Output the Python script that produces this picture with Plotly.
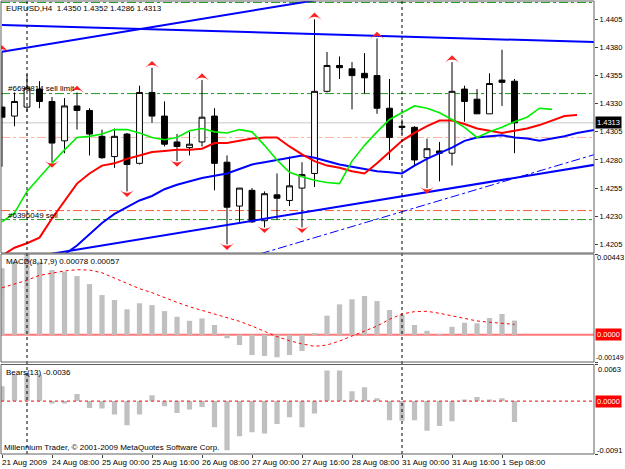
import plotly.graph_objects as go

# ---------------- data ----------------
bars = list(range(42))
bar_open = [1.4327, 1.4319, 1.4327, 1.4343, 1.4332, 1.4297, 1.4328, 1.4324, 1.4301, 1.4283,
            1.4303, 1.4277, 1.4340, 1.4319, 1.4296, 1.4291, 1.4296, 1.4319, 1.4278, 1.4239,
            1.4253, 1.4226, 1.4249, 1.4244, 1.4255, 1.4268, 1.4341, 1.4364, 1.4361, 1.4357,
            1.4355, 1.4326, 1.4310, 1.4309, 1.4282, 1.4288, 1.4286, 1.4343, 1.4334, 1.4321,
            1.4351, 1.4350]
bar_high = [1.4376, 1.4340, 1.4356, 1.4350, 1.4336, 1.4335, 1.4340, 1.4326, 1.4307, 1.4308,
            1.4304, 1.4346, 1.4362, 1.4332, 1.4303, 1.4305, 1.4351, 1.4326, 1.4284, 1.4255,
            1.4255, 1.4252, 1.4268, 1.4283, 1.4278, 1.4405, 1.4376, 1.4372, 1.4367, 1.4375,
            1.4388, 1.4352, 1.4316, 1.4310, 1.4299, 1.4296, 1.4367, 1.4346, 1.4343, 1.4357,
            1.4378, 1.4352]
bar_low = [1.4274, 1.4310, 1.4323, 1.4326, 1.4278, 1.4286, 1.4307, 1.4284, 1.4281, 1.4273,
           1.4252, 1.4276, 1.4313, 1.4292, 1.4279, 1.4284, 1.4292, 1.4253, 1.4205, 1.4225,
           1.4224, 1.4220, 1.4227, 1.4239, 1.4220, 1.4256, 1.4340, 1.4352, 1.4325, 1.4339,
           1.4321, 1.4280, 1.4303, 1.4275, 1.4255, 1.4261, 1.4275, 1.4314, 1.4321, 1.4321,
           1.4328, 1.4286]
bar_close = [1.4318, 1.4332, 1.4344, 1.4332, 1.4295, 1.4328, 1.4324, 1.4303, 1.4282, 1.4301,
             1.4276, 1.4340, 1.4319, 1.4294, 1.4292, 1.4294, 1.4318, 1.4277, 1.4238, 1.4255,
             1.4225, 1.4250, 1.4246, 1.4257, 1.4267, 1.4341, 1.4364, 1.4362, 1.4355, 1.4353,
             1.4326, 1.4300, 1.4309, 1.4280, 1.4290, 1.4286, 1.4341, 1.4332, 1.4321, 1.4348,
             1.4349, 1.4313]

# Alligator lines (shifted forward beyond the last bar)
lips_green = [1.4225, 1.4233, 1.4252, 1.4265, 1.4277, 1.4289, 1.4300, 1.4301, 1.4303, 1.4307,
              1.4307, 1.4304, 1.4300, 1.4298, 1.4300, 1.4306, 1.4308, 1.4305, 1.4304, 1.4307,
              1.4305, 1.4293, 1.4280, 1.4269, 1.4265, 1.4262, 1.4260, 1.4259, 1.4279, 1.4293,
              1.4305, 1.4316, 1.4322, 1.4328, 1.4326, 1.4322, 1.4316, 1.4309, 1.4300, 1.4305,
              1.4309, 1.4314, 1.4318, 1.4326, 1.4325]
teeth_red = [1.4195, 1.4202, 1.4206, 1.4211, 1.4228, 1.4243, 1.4259, 1.4268, 1.4275, 1.4277,
             1.4281, 1.4284, 1.4287, 1.4288, 1.4289, 1.4289, 1.4290, 1.4295, 1.4295, 1.4297,
             1.4299, 1.4300, 1.4300, 1.4292, 1.4285, 1.4279, 1.4275, 1.4273, 1.4270, 1.4268,
             1.4277, 1.4287, 1.4297, 1.4304, 1.4310, 1.4315, 1.4315, 1.4312, 1.4308, 1.4306,
             1.4304, 1.4306, 1.4308, 1.4311, 1.4315, 1.4319, 1.4320]
jaw_blue = [1.4129, 1.4138, 1.4151, 1.4164, 1.4182, 1.4196, 1.4204, 1.4214, 1.4224, 1.4232,
            1.4238, 1.4244, 1.4248, 1.4254, 1.4258, 1.4261, 1.4264, 1.4266, 1.4268, 1.4272,
            1.4276, 1.4278, 1.4280, 1.4282, 1.4284, 1.4282, 1.4279, 1.4276, 1.4274, 1.4272,
            1.4270, 1.4269, 1.4268, 1.4275, 1.4281, 1.4286, 1.4291, 1.4297, 1.4300, 1.4301,
            1.4302, 1.4300, 1.4299, 1.4297, 1.4299, 1.4301, 1.4304, 1.4306, 1.4308]

fractal_up_bars = [0, 6, 12, 16, 25, 30, 36]
fractal_down_bars = [4, 10, 14, 18, 21, 24, 34]

# trend lines: values at bar 0 and bar 48
trend_x = [0, 48]
channel_upper = [1.43762, 1.44638]
channel_lower = [1.41894, 1.42768]
falling_line = [1.43999, 1.43846]
dashed_line = [1.41284, 1.42868]

# order / price levels
top_order_level = 1.4420
sell_limit_level = 1.4339
open_level = 1.4300
sell_stop_level = 1.4235
sell_tp_level = 1.4227
bid_price = 1.4313

macd_hist = [0.00365, 0.00401, 0.00443, 0.00401, 0.00355, 0.00346, 0.00322, 0.00278, 0.00218, 0.00191,
             0.00140, 0.00173, 0.00163, 0.00130, 0.00099, 0.00077, 0.00090, 0.00054, -0.00019, -0.00056,
             -0.00111, -0.00116, -0.00123, -0.00111, -0.00089, 0.00010, 0.00105, 0.00167, 0.00195, 0.00213,
             0.00185, 0.00136, 0.00109, 0.00054, 0.00022, 0.00002, 0.00044, 0.00066, 0.00063, 0.00092,
             0.00114, 0.00078]
macd_signal = [0.00258, 0.00280, 0.00299, 0.00326, 0.00340, 0.00350, 0.00357, 0.00355, 0.00340, 0.00310,
               0.00282, 0.00253, 0.00231, 0.00203, 0.00178, 0.00154, 0.00134, 0.00114, 0.00094, 0.00074,
               0.00048, 0.00017, -0.00010, -0.00032, -0.00050, -0.00063, -0.00056, -0.00034, -0.00007, 0.00021,
               0.00048, 0.00085, 0.00114, 0.00127, 0.00129, 0.00118, 0.00103, 0.00090, 0.00076, 0.00069,
               0.00063, 0.00057]
bears_power = [0.00255, 0.00456, 0.00485, 0.00456, -0.00043, -0.00043, 0.00124, -0.00117, -0.00129, -0.00232,
               -0.00416, -0.00232, 0.00100, -0.00089, -0.00203, -0.00146, -0.00100, -0.00450, -0.00846, -0.00605,
               -0.00537, -0.00559, -0.00392, -0.00279, -0.00450, -0.00215, 0.00525, 0.00525, 0.00169, 0.00237,
               0.00048, -0.00330, -0.00336, -0.00330, -0.00508, -0.00427, -0.00348, 0.00014, 0.00072, 0.00021,
               0.00048, -0.00360]

price_ticks = [1.4405, 1.4380, 1.4355, 1.4330, 1.4305, 1.4280, 1.4255, 1.4230, 1.4205]
macd_scale = [-0.00149, 0.00443]
bears_scale = [-0.0091, 0.0063]
time_tick_bars = [0, 4, 8, 12, 16, 20, 24, 28, 32, 36, 40]
time_tick_labels = ["21 Aug 2009", "24 Aug 08:00", "25 Aug 00:00", "25 Aug 16:00", "26 Aug 08:00",
                    "27 Aug 00:00", "27 Aug 16:00", "28 Aug 08:00", "31 Aug 00:00", "31 Aug 16:00",
                    "1 Sep 08:00"]
week_separator_bars = [2, 32]

# ---------------- figure ----------------
FONT = "Liberation Sans, Arial, sans-serif"
FS = 8
FSR = 7.5
W, H = 625, 469
ML, MR, MT, MB = 1, 31, 1, 15
plot_h = H - MT - MB


def dom(top_px, bot_px):
    return [(H - MB - bot_px) / plot_h, (H - MB - top_px) / plot_h]


main_dom = dom(1, 253)
macd_dom = dom(254, 362)
bears_dom = dom(364.5, 454)

fig = go.Figure()

fig.add_trace(go.Candlestick(
    x=bars, open=bar_open, high=bar_high, low=bar_low, close=bar_close,
    increasing=dict(line=dict(color="black", width=1), fillcolor="white"),
    decreasing=dict(line=dict(color="black", width=1), fillcolor="black"),
    whiskerwidth=0, hoverinfo="skip", xaxis="x", yaxis="y", showlegend=False))

ext = list(range(49))
fig.add_trace(go.Scatter(x=ext[:len(jaw_blue)], y=jaw_blue, mode="lines",
                         line=dict(color="#0000ff", width=2), xaxis="x", yaxis="y"))
fig.add_trace(go.Scatter(x=ext[:len(teeth_red)], y=teeth_red, mode="lines",
                         line=dict(color="#ff0000", width=2), xaxis="x", yaxis="y"))
fig.add_trace(go.Scatter(x=ext[:len(lips_green)], y=lips_green, mode="lines",
                         line=dict(color="#00ee00", width=1.6), xaxis="x", yaxis="y"))

for vals, wid, dash in [(channel_upper, 2, "solid"), (channel_lower, 2, "solid"),
                        (falling_line, 2, "solid"), (dashed_line, 1, "dashdot")]:
    fig.add_trace(go.Scatter(x=trend_x, y=vals, mode="lines",
                             line=dict(color="#0000ff", width=wid, dash=dash), xaxis="x", yaxis="y"))

UP_OFF, DN_OFF = 0.0006, 0.0005
fig.add_trace(go.Scatter(
    x=fractal_up_bars, y=[bar_high[i] + UP_OFF for i in fractal_up_bars], mode="markers",
    marker=dict(symbol="arrow-wide", size=10, color="#ff2020", angle=0), xaxis="x", yaxis="y"))
fig.add_trace(go.Scatter(
    x=fractal_down_bars, y=[bar_low[i] - DN_OFF for i in fractal_down_bars], mode="markers",
    marker=dict(symbol="arrow-wide", size=10, color="#ff2020", angle=180), xaxis="x", yaxis="y"))

# MACD
fig.add_trace(go.Bar(x=bars, y=macd_hist, width=0.42, marker=dict(color="#c0c0c0", line=dict(width=0)),
                     xaxis="x2", yaxis="y2"))
fig.add_trace(go.Scatter(x=bars, y=macd_signal, mode="lines",
                         line=dict(color="#ff0000", width=1, dash="dot"), xaxis="x2", yaxis="y2"))
# Bears
fig.add_trace(go.Bar(x=bars, y=bears_power, width=0.42, marker=dict(color="#c0c0c0", line=dict(width=0)),
                     xaxis="x3", yaxis="y3"))

shapes = []
# level lines in main chart
for lvl, col, dash in [(top_order_level, "#1f9a1f", "dashdot"), (sell_limit_level, "#1f9a1f", "dashdot"),
                       (open_level, "#ffb4a0", "dashdot"), (sell_stop_level, "#ff5a30", "dashdot"),
                       (sell_tp_level, "#1f9a1f", "dashdot"), (bid_price, "#c8c8c8", "solid")]:
    shapes.append(dict(type="line", xref="paper", x0=0, x1=1, yref="y", y0=lvl, y1=lvl,
                       line=dict(color=col, width=1, dash=dash), layer="below"))
# zero lines
shapes.append(dict(type="line", xref="paper", x0=0, x1=1, yref="y2", y0=0, y1=0,
                   line=dict(color="#ff7878", width=2), layer="below"))
shapes.append(dict(type="line", xref="paper", x0=0, x1=1, yref="y3", y0=0, y1=0,
                   line=dict(color="#ff3030", width=1.3, dash="dot"), layer="above"))
# week separators
for b in week_separator_bars:
    shapes.append(dict(type="line", xref="x", x0=b, x1=b, yref="paper", y0=0, y1=1,
                       line=dict(color="black", width=1, dash="dot"), layer="above"))
# panel borders
for d in (main_dom, macd_dom, bears_dom):
    shapes.append(dict(type="rect", xref="paper", x0=0, x1=1, yref="paper", y0=d[0], y1=d[1],
                       line=dict(color="#606060", width=1), layer="above"))

ann = []


def text(x, y, s, xref="paper", yref="paper", xanchor="left", yanchor="middle", size=FS, **kw):
    d = dict(x=x, y=y, xref=xref, yref=yref, text=s, showarrow=False, xanchor=xanchor,
             yanchor=yanchor, font=dict(family=FONT, size=size, color=kw.pop("color", "black")))
    d.update(kw)
    ann.append(d)


text(0, 1, "EURUSD,H4  %.4f %.4f %.4f %.4f" % (bar_open[-1], bar_high[-1], bar_low[-1], bar_close[-1]),
     yanchor="top", xshift=3, yshift=-1)
text(0, sell_limit_level, "#6698814 sell limit", yref="y", yanchor="bottom", xshift=5, yshift=-1)
text(0, (sell_stop_level + sell_tp_level) / 2, "#6396049 sell", yref="y", xshift=5)
text(0, macd_dom[1], "MACD(8,17,9) %.5f %.5f" % (macd_hist[-1], macd_signal[-1]), yanchor="top",
     xshift=3, yshift=-1)
text(0, bears_dom[1], "Bears(13) %.4f" % bears_power[-1], yanchor="top", xshift=3, yshift=-1)
text(0, bears_dom[0], "Millennium Trader, \u00a9 2001-2009 MetaQuotes Software Corp.", yanchor="bottom",
     xshift=1, yshift=0)

# right side value labels
text(1, bid_price, "%.4f" % bid_price, yref="y", xshift=1, bgcolor="black", color="white",
     borderpad=1, size=FSR)
text(1, macd_scale[1], "%.5f" % macd_scale[1], yref="y2", xshift=1, yshift=-3, size=FSR)
text(1, macd_scale[0], "%.5f" % macd_scale[0], yref="y2", xshift=0, yshift=5, size=7)
text(1, 0, "0.0000", yref="y2", xshift=1, bgcolor="#ff0000", color="white", borderpad=1, size=FSR)
text(1, bears_scale[1], "%.4f" % bears_scale[1], yref="y3", xshift=2, yshift=-5, size=FSR)
text(1, bears_scale[0], "%.4f" % bears_scale[0], yref="y3", xshift=1, yshift=4, size=FSR)
text(1, 0, "0.0000", yref="y3", xshift=1, bgcolor="#ff0000", color="white", borderpad=1, size=FSR)

# time labels
for b, lab in zip(time_tick_bars, time_tick_labels):
    text(b, 0, lab, xref="x3", yanchor="middle", xshift=-2, yshift=-8)

xr = [(0 - 1) / 12.5 - 0.0, (593 - 1) / 12.5]
axis_common = dict(range=xr, showgrid=False, zeroline=False, showline=False, fixedrange=True)

fig.update_layout(
    width=W, height=H, margin=dict(l=ML, r=MR, t=MT, b=MB),
    paper_bgcolor="white", plot_bgcolor="white", showlegend=False,
    font=dict(family=FONT, size=FS, color="black"),
    boxgap=0.33,
    xaxis=dict(anchor="y", showticklabels=False, ticks="", rangeslider=dict(visible=False), **axis_common),
    xaxis2=dict(anchor="y2", matches="x", showticklabels=False, ticks="", **axis_common),
    xaxis3=dict(anchor="y3", matches="x", showticklabels=False, ticks="outside", ticklen=3,
                tickcolor="#404040", tickvals=time_tick_bars, **axis_common),
    yaxis=dict(domain=main_dom, range=[1.41973, 1.44213], side="right", showgrid=False, zeroline=False,
               tickvals=price_ticks, ticktext=["%.4f" % v for v in price_ticks], ticks="outside",
               ticklen=3, tickcolor="#404040", tickfont=dict(family=FONT, size=FSR), fixedrange=True),
    yaxis2=dict(domain=macd_dom, range=macd_scale, side="right", showgrid=False, zeroline=False,
                tickvals=macd_scale, showticklabels=False, ticks="outside", ticklen=3,
                tickcolor="#404040", fixedrange=True),
    yaxis3=dict(domain=bears_dom, range=bears_scale, side="right", showgrid=False, zeroline=False,
                tickvals=bears_scale, showticklabels=False, ticks="outside", ticklen=3,
                tickcolor="#404040", fixedrange=True),
    shapes=shapes, annotations=ann,
)

fig.write_html("out.html")
